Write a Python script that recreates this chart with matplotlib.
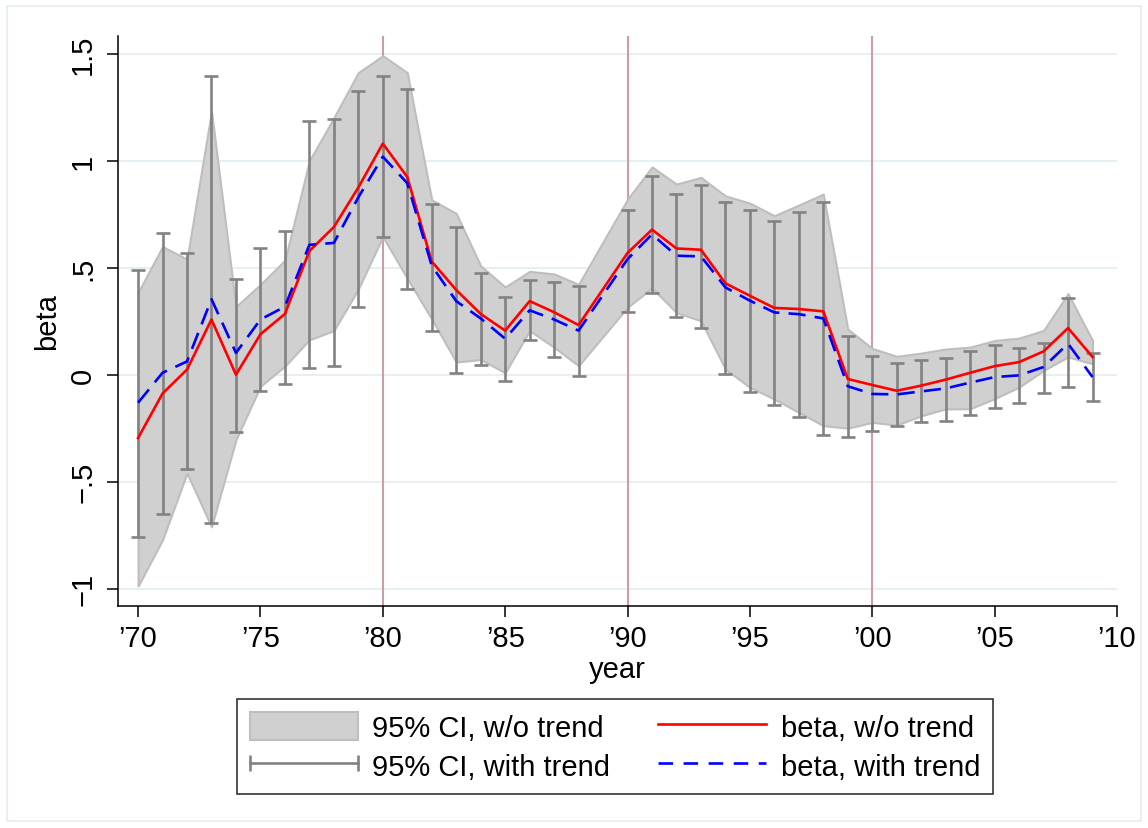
import matplotlib
matplotlib.use('Agg')
import matplotlib.pyplot as plt
from matplotlib.patches import Patch, Rectangle
from matplotlib.lines import Line2D
from matplotlib.legend_handler import HandlerLine2D
import numpy as np

plt.rcParams['font.family'] = ['Liberation Sans', 'DejaVu Sans']

# ---------------- data ----------------
years = [1970, 1971, 1972, 1973, 1974, 1975, 1976, 1977, 1978, 1979,
         1980, 1981, 1982, 1983, 1984, 1985, 1986, 1987, 1988,
         1990, 1991, 1992, 1993, 1994, 1995, 1996, 1997, 1998, 1999,
         2000, 2001, 2002, 2003, 2004, 2005, 2006, 2007, 2008, 2009]

beta_no_trend = [-0.296, -0.088, 0.024, 0.258, 0.000, 0.189, 0.284, 0.578, 0.690, 0.875,
                 1.080, 0.924, 0.529, 0.396, 0.284, 0.206, 0.344, 0.292, 0.232,
                 0.569, 0.678, 0.590, 0.584, 0.427, 0.369, 0.312, 0.307, 0.296, -0.020,
                 -0.048, -0.075, -0.051, -0.023, 0.009, 0.040, 0.059, 0.109, 0.218, 0.083]

beta_with_trend = [-0.131, 0.009, 0.062, 0.353, 0.102, 0.258, 0.318, 0.607, 0.616, 0.829,
                   1.019, 0.895, 0.509, 0.344, 0.263, 0.168, 0.301, 0.258, 0.206,
                   0.540, 0.656, 0.556, 0.553, 0.408, 0.346, 0.291, 0.283, 0.263, -0.054,
                   -0.090, -0.092, -0.078, -0.064, -0.037, -0.011, -0.003, 0.036, 0.145, -0.011]

ci_no_trend_lo = [-0.988, -0.772, -0.460, -0.711, -0.304, -0.054, 0.040, 0.163, 0.206, 0.400,
                  0.645, 0.450, 0.260, 0.059, 0.071, 0.009, 0.206, 0.128, 0.042,
                  0.315, 0.405, 0.290, 0.252, 0.026, -0.059, -0.114, -0.176, -0.238, -0.250,
                  -0.223, -0.235, -0.192, -0.160, -0.159, -0.112, -0.058, 0.020, 0.083, 0.051]
ci_no_trend_hi = [0.384, 0.599, 0.540, 1.232, 0.318, 0.422, 0.535, 1.000, 1.201, 1.412,
                  1.491, 1.412, 0.817, 0.754, 0.509, 0.410, 0.483, 0.471, 0.422,
                  0.820, 0.971, 0.891, 0.922, 0.836, 0.802, 0.743, 0.793, 0.844, 0.213,
                  0.123, 0.086, 0.101, 0.120, 0.129, 0.160, 0.171, 0.207, 0.379, 0.160]

ci_with_trend_lo = [-0.758, -0.650, -0.443, -0.694, -0.270, -0.076, -0.042, 0.031, 0.042, 0.318,
                    0.644, 0.400, 0.206, 0.010, 0.047, -0.028, 0.163, 0.085, -0.005,
                    0.292, 0.384, 0.271, 0.218, 0.003, -0.083, -0.140, -0.196, -0.280, -0.289,
                    -0.262, -0.240, -0.223, -0.215, -0.190, -0.154, -0.131, -0.084, -0.058, -0.125]
ci_with_trend_hi = [0.491, 0.664, 0.569, 1.394, 0.448, 0.592, 0.670, 1.187, 1.196, 1.327,
                    1.394, 1.336, 0.799, 0.690, 0.474, 0.362, 0.443, 0.434, 0.413,
                    0.772, 0.927, 0.844, 0.886, 0.805, 0.771, 0.717, 0.759, 0.805, 0.180,
                    0.086, 0.056, 0.070, 0.078, 0.109, 0.137, 0.125, 0.150, 0.358, 0.103]

xline_years = [1980, 1990, 2000]
xticks = [1970, 1975, 1980, 1985, 1990, 1995, 2000, 2005, 2010]
xticklabels = ['\u201970', '\u201975', '\u201980', '\u201985', '\u201990',
               '\u201995', '\u201900', '\u201905', '\u201910']
yticks = [-1, -0.5, 0, 0.5, 1, 1.5]
yticklabels = ['\u22121', '\u2212.5', '0', '.5', '1', '1.5']

# ---------------- figure ----------------
W, H = 1148, 829
fig = plt.figure(figsize=(W / 100, H / 100), dpi=100)
fig.patch.set_facecolor('white')
fig.patches.append(Rectangle((7 / W, 7 / H), (W - 14) / W, (H - 14) / H,
                             transform=fig.transFigure, fill=False,
                             edgecolor='#E4ECEF', lw=1.2))

ax = fig.add_axes([118 / W, (H - 607) / H, 999 / W, 570 / H])

FCOL = '#D0D0D0'
ECOL = '#BEBEBE'
GCOL = '#828282'

ax.fill_between(years, ci_no_trend_lo, ci_no_trend_hi, facecolor=FCOL,
                edgecolor=ECOL, lw=1.5, zorder=2)

lo = np.array(ci_with_trend_lo)
hi = np.array(ci_with_trend_hi)
mid = (lo + hi) / 2
half = (hi - lo) / 2
ax.errorbar(years, mid, yerr=half, fmt='none', ecolor=GCOL, elinewidth=1.9,
            capsize=4.8, capthick=1.9, zorder=3)

ax.plot(years, beta_no_trend, color='#FF0000', lw=1.9, zorder=4)
ax.plot(years, beta_with_trend, color='#0000FF', lw=1.9, dashes=(6.5, 3.5), zorder=5)

for xv in xline_years:
    ax.axvline(xv, color='#CC9EA2', lw=1.5, zorder=1)

ax.set_xlim(1969.18, 2010)
ax.set_ylim(-1.081, 1.583)
ax.set_xticks(xticks)
ax.set_xticklabels(xticklabels)
ax.set_yticks(yticks)
ax.set_yticklabels(yticklabels, rotation=90, va='center')

ax.yaxis.grid(True, color='#E6EFF1', lw=1.4, zorder=0)
ax.set_axisbelow(True)

for s in ['top', 'right']:
    ax.spines[s].set_visible(False)
for s in ['left', 'bottom']:
    ax.spines[s].set_linewidth(1.1)

ax.tick_params(axis='both', labelsize=21, length=8, width=1.1, direction='out')
ax.tick_params(axis='x', pad=5)
ax.tick_params(axis='y', pad=7)

ax.set_xlabel('year', fontsize=21, labelpad=2)
ax.set_ylabel('beta', fontsize=21, labelpad=6)

# ---------------- legend ----------------
h1 = Patch(facecolor=FCOL, edgecolor=ECOL, lw=1.5)
h2 = Line2D([], [], color=GCOL, lw=1.9, marker='|', markersize=11, markeredgewidth=1.9)
h3 = Line2D([], [], color='#FF0000', lw=1.9)
h4 = Line2D([], [], color='#0000FF', lw=1.9, dashes=(5.5, 4))

leg = fig.legend([h1, h2, h3, h4],
                 ['95% CI, w/o trend', '95% CI, with trend',
                  'beta, w/o trend', 'beta, with trend'],
                 loc='upper center', bbox_to_anchor=(615 / W, 1 - 700 / H),
                 bbox_transform=fig.transFigure, ncol=2, frameon=True,
                 fancybox=False, edgecolor='black', fontsize=21,
                 handlelength=3.7, handleheight=1.1, handletextpad=0.5,
                 columnspacing=1.65, labelspacing=0.3, borderpad=0.45,
                 borderaxespad=0,
                 handler_map={h2: HandlerLine2D(numpoints=2, marker_pad=0)})
leg.get_frame().set_linewidth(1.2)

fig.savefig('out.png', dpi=100, facecolor='white')
